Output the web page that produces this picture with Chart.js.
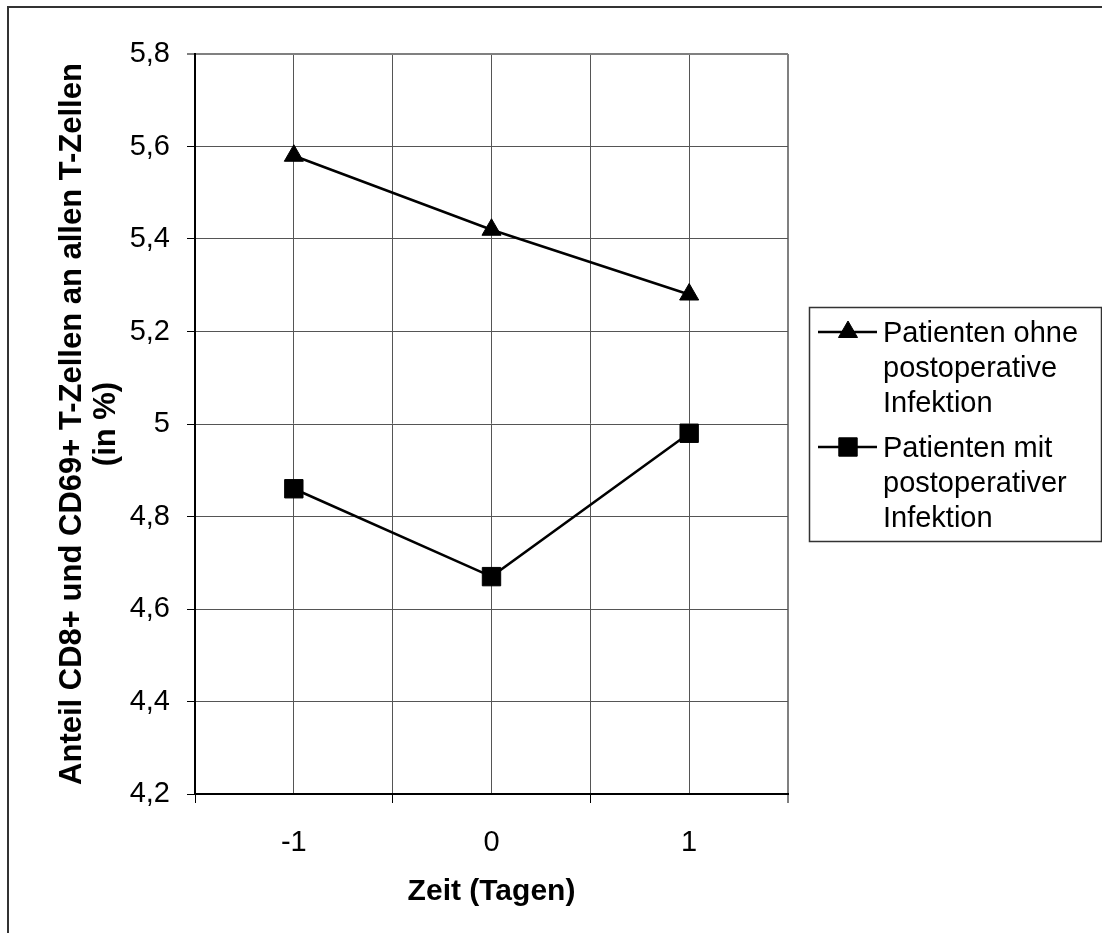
<!DOCTYPE html>
<html>
<head>
<meta charset="utf-8">
<title>CD8+ CD69+ T-Zellen</title>
<script src="https://cdn.jsdelivr.net/npm/chart.js@4/dist/chart.umd.min.js"></script>
<style>
  html, body { margin: 0; padding: 0; background: #fff; }
  #wrap { position: relative; width: 1102px; height: 933px; }
</style>
</head>
<body>
<div id="wrap"><canvas id="cd69Chart" width="1102" height="933"></canvas></div>
<script>
const days = [-1, 0, 1];
const dayLabels = ['-1', '0', '1'];
const withoutInfection = [5.58, 5.42, 5.28];
const withInfection = [4.86, 4.67, 4.98];
const yTickValues = [4.2, 4.4, 4.6, 4.8, 5.0, 5.2, 5.4, 5.6, 5.8];
const yTickLabels = ['4,2', '4,4', '4,6', '4,8', '5', '5,2', '5,4', '5,6', '5,8'];
const seriesNames = [
  ['Patienten ohne', 'postoperative', 'Infektion'],
  ['Patienten mit', 'postoperativer', 'Infektion']
];
const yTitle = ['Anteil CD8+ und CD69+ T-Zellen an allen T-Zellen', '(in %)'];
const xTitle = 'Zeit (Tagen)';

const FONT = '"Liberation Sans", Arial, sans-serif';

// white page + outer frame (only top/left edges visible in the crop)
const frame = {
  id: 'frame',
  beforeDraw(chart) {
    const ctx = chart.ctx;
    ctx.save();
    ctx.fillStyle = '#fff';
    ctx.fillRect(0, 0, chart.width, chart.height);
    ctx.strokeStyle = '#333';
    ctx.lineWidth = 2;
    ctx.strokeRect(8, 7, chart.width + 20, chart.height + 20);
    ctx.restore();
  }
};

// legend box on the right with wrapped labels
const legendBox = {
  id: 'legendBox',
  afterDraw(chart) {
    const ctx = chart.ctx;
    ctx.save();
    ctx.strokeStyle = '#333';
    ctx.lineWidth = 1.5;
    ctx.strokeRect(809.5, 307.5, 292, 234);
    ctx.font = '29px ' + FONT;
    ctx.textBaseline = 'alphabetic';
    chart.data.datasets.forEach((ds, i) => {
      const base = 342 + i * 115;
      const my = base - 10;
      ctx.strokeStyle = '#000';
      ctx.fillStyle = '#000';
      ctx.lineWidth = 2.5;
      ctx.beginPath();
      ctx.moveTo(818, my);
      ctx.lineTo(877, my);
      ctx.stroke();
      ctx.lineWidth = 1;
      Chart.helpers.drawPoint(ctx, {
        pointStyle: ds.pointStyle, rotation: 0, borderWidth: 1, radius: ds.pointRadius
      }, 848, my);
      seriesNames[i].forEach((line, j) => {
        ctx.fillText(line, 883, base + j * 35);
      });
    });
    ctx.restore();
  }
};

new Chart(document.getElementById('cd69Chart'), {
  type: 'line',
  data: {
    labels: days,
    datasets: [
      {
        label: seriesNames[0].join(' '),
        data: withoutInfection,
        borderColor: '#000',
        backgroundColor: '#000',
        borderWidth: 2.5,
        pointStyle: 'triangle',
        pointRadius: 11,
        pointBorderWidth: 1,
        tension: 0
      },
      {
        label: seriesNames[1].join(' '),
        data: withInfection,
        borderColor: '#000',
        backgroundColor: '#000',
        borderWidth: 2.5,
        pointStyle: 'rect',
        pointRadius: 13,
        pointBorderWidth: 1,
        tension: 0
      }
    ]
  },
  options: {
    responsive: false,
    devicePixelRatio: 1,
    animation: false,
    layout: { padding: { top: 54, right: 314, left: 0, bottom: 0 } },
    plugins: {
      legend: { display: false },
      tooltip: { enabled: false }
    },
    scales: {
      x: {
        type: 'linear',
        min: -1.5,
        max: 1.5,
        afterFit(scale) { scale.height = 139; },
        ticks: {
          stepSize: 0.5,
          autoSkip: false,
          maxRotation: 0,
          padding: 23,
          color: '#000',
          font: { family: FONT, size: 29 },
          callback(v) {
            const i = days.indexOf(v);
            return i >= 0 ? dayLabels[i] : '';
          }
        },
        grid: {
          color: c => c.tick && c.tick.value === 1.5 ? '#808080' : '#555',
          lineWidth: c => c.tick && c.tick.value === 1.5 ? 2 : 1,
          tickLength: 9,
          tickColor: c => c.tick && Number.isInteger(c.tick.value) ? 'rgba(0,0,0,0)' : '#000',
          tickWidth: 1
        },
        border: { color: '#000', width: 2 },
        title: {
          display: true,
          text: xTitle,
          color: '#000',
          font: { family: FONT, size: 30, weight: 'bold' },
          padding: { top: 0, bottom: 23 }
        }
      },
      y: {
        min: 4.2,
        max: 5.8,
        afterFit(scale) { scale.width = 195; },
        afterBuildTicks(scale) { scale.ticks = yTickValues.map(v => ({ value: v })); },
        ticks: {
          padding: 17,
          color: '#000',
          font: { family: FONT, size: 29 },
          callback: (v, i) => yTickLabels[i]
        },
        grid: {
          color: c => c.tick && c.tick.value === 5.8 ? '#808080' : '#555',
          lineWidth: c => c.tick && c.tick.value === 5.8 ? 2 : 1,
          tickLength: 8,
          tickColor: '#000',
          tickWidth: 1
        },
        border: { color: '#000', width: 2 },
        title: {
          display: true,
          text: yTitle,
          color: '#000',
          font: { family: FONT, size: 31, weight: 'bold', lineHeight: 1.1 },
          padding: { top: 55, bottom: 0 }
        }
      }
    }
  },
  plugins: [frame, legendBox]
});
</script>
</body>
</html>
